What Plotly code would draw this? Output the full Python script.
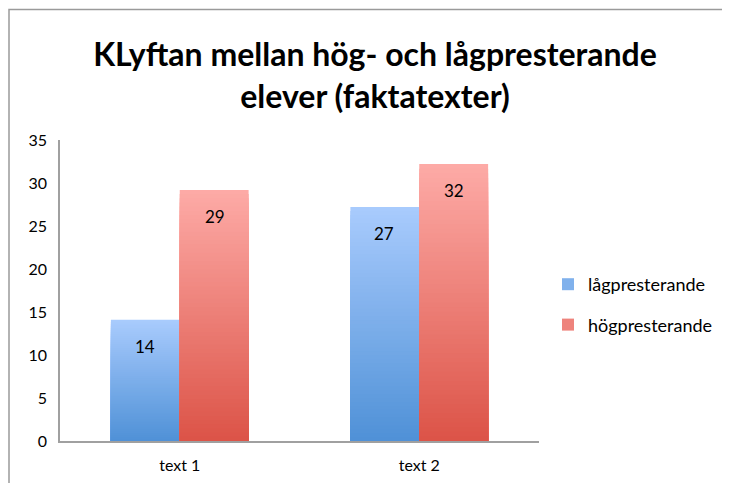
import plotly.graph_objects as go

categories = ["text 1", "text 2"]
series_names = ["lågpresterande", "högpresterande"]
low_values = [14.1, 27.2]
high_values = [29.2, 32.2]
value_labels_low = ["14", "27"]
value_labels_high = ["29", "32"]
y_ticks = [0, 5, 10, 15, 20, 25, 30, 35]

# gradient end colours (top, bottom)
grad = {
    "lågpresterande": ((168, 203, 253), (80, 145, 215)),
    "högpresterande": ((253, 170, 166), (220, 84, 72)),
}
N = 60
FONT = "Lato, Open Sans, sans-serif"

# figure is shifted by the page's 8px body margin
W, H = 722, 475
L, R, T, B = 52, 191, 132, 42
PW, PH = W - L - R, H - T - B


def px_x(x):
    return (x - L) / PW


def px_y(y):
    return (H - B - y) / PH


def mix(c1, c2, t):
    return "rgb(%d,%d,%d)" % tuple(round(a + (b - a) * t) for a, b in zip(c1, c2))


fig = go.Figure()
annotations = []
for si, (name, vals, labels) in enumerate([
    (series_names[0], low_values, value_labels_low),
    (series_names[1], high_values, value_labels_high),
]):
    top, bot = grad[name]
    for k in range(N):
        frac = (N - k) / N
        fig.add_trace(go.Bar(
            x=categories,
            y=[v * frac for v in vals],
            base=0,
            offsetgroup=name,
            marker=dict(color=mix(top, bot, k / (N - 1)), line=dict(width=0)),
            showlegend=False,
            hoverinfo="skip",
        ))
    # legend entry
    fig.add_trace(go.Bar(
        x=[None], y=[None], name=name, legendgroup=name,
        marker=dict(color=mix(top, bot, 0.45), line=dict(width=0)),
        showlegend=True,
    ))
    for c, v, t in zip(categories, vals, labels):
        annotations.append(dict(
            x=c, y=v, xref="x", yref="y", text=t, showarrow=False,
            xshift=(-35 if si == 0 else 35), yshift=-14, yanchor="top",
            font=dict(family=FONT, size=17, color="black"),
        ))

fig.update_layout(
    width=W, height=H,
    margin=dict(l=L, r=R, t=T, b=B, autoexpand=False),
    paper_bgcolor="white", plot_bgcolor="white",
    barmode="group", bargap=0.425, bargroupgap=0,
    font=dict(family=FONT, size=16, color="black"),
    title=dict(
        text="<b>KLyftan mellan hög- och lågpresterande<br>elever (faktatexter)</b>",
        x=367 / W, xanchor="center", xref="container",
        y=1 - 58 / H, yanchor="top", yref="container",
        font=dict(family=FONT, size=32, color="black"),
    ),
    legend=dict(
        x=px_x(540), y=px_y(258), xanchor="left", yanchor="top",
        font=dict(family=FONT, size=18),
        tracegroupgap=14, itemsizing="constant",
    ),
    xaxis=dict(
        showline=True, linecolor="#a0a0a0", linewidth=1.5,
        ticks="", showgrid=False, tickfont=dict(size=16),
        ticklabelstandoff=9, automargin=False,
    ),
    yaxis=dict(
        range=[0, 35], tickvals=y_ticks, showline=True, linecolor="#a0a0a0",
        linewidth=1.5, ticks="", showgrid=False, zeroline=False,
        tickfont=dict(size=16), ticklabelstandoff=8, automargin=False,
    ),
    annotations=annotations,
    shapes=[dict(
        type="rect", xref="paper", yref="paper",
        x0=px_x(1), x1=px_x(800),
        y0=px_y(900), y1=px_y(1.5),
        line=dict(color="#9a9a9a", width=1.5), fillcolor="rgba(0,0,0,0)",
        layer="below",
    )],
)

fig.write_html("out.html")
